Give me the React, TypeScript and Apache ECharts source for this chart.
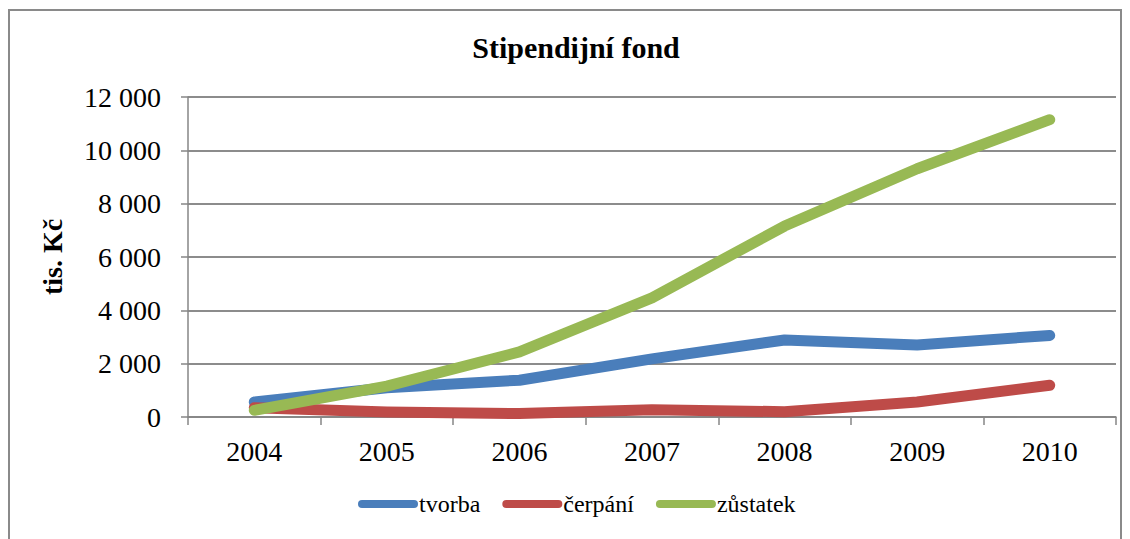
import React, { useEffect, useRef } from "react";
import * as echarts from "echarts";

const title = "Stipendijní fond";
const categories = ["2004", "2005", "2006", "2007", "2008", "2009", "2010"];
const seriesNames = ["tvorba", "čerpání", "zůstatek"];
const tvorba = [560, 1100, 1380, 2180, 2890, 2700, 3060];
const cerpani = [350, 190, 130, 270, 200, 560, 1190];
const zustatek = [250, 1160, 2440, 4470, 7160, 9310, 11150];
const colors = ["#4A7EBB", "#BE4B48", "#98B954"];
const yName = "tis. Kč";

const FONT = "Liberation Serif";

export default function App() {
  const ref = useRef<HTMLDivElement>(null);
  useEffect(() => {
    if (!ref.current) return;
    const chart = echarts.init(ref.current, undefined, { renderer: "svg" });
    const dataSets = [tvorba, cerpani, zustatek];
    chart.setOption({
      animation: false,
      backgroundColor: "#ffffff",
      textStyle: { fontFamily: FONT },
      title: {
        text: title,
        left: 571,
        textAlign: "center",
        top: 27,
        textStyle: { fontFamily: FONT, fontSize: 30, fontWeight: "bold", color: "#000" },
      },
      legend: {
        bottom: 18,
        left: 353,
        itemWidth: 60,
        itemHeight: 8,
        itemGap: 22,
        icon: "path://M4,0 L56,0 A4,4 0 0 1 56,8 L4,8 A4,4 0 0 1 4,0 Z",
        textStyle: { fontFamily: FONT, fontSize: 24, color: "#000", padding: [0, 0, 0, -4] },
        data: seriesNames,
      },
      grid: { left: 188, right: 14, top: 97, bottom: 122, containLabel: false },
      xAxis: {
        type: "category",
        data: categories,
        boundaryGap: true,
        axisLine: { lineStyle: { color: "#868686", width: 1.5 } },
        axisTick: { show: true, alignWithLabel: false, length: 8, lineStyle: { color: "#868686", width: 1.5 } },
        axisLabel: { fontFamily: FONT, fontSize: 28, color: "#000", margin: 20 },
      },
      yAxis: {
        type: "value",
        min: 0,
        max: 12000,
        interval: 2000,
        name: yName,
        nameLocation: "middle",
        nameRotate: 90,
        nameGap: 122,
        nameTextStyle: { fontFamily: FONT, fontSize: 28, fontWeight: "bold", color: "#000" },
        axisLine: { show: true, lineStyle: { color: "#868686", width: 1.5 } },
        axisTick: { show: true, length: 7, lineStyle: { color: "#868686", width: 1.5 } },
        axisLabel: {
          fontFamily: FONT,
          fontSize: 28,
          color: "#000",
          margin: 27,
          formatter: (v: number) => String(v).replace(/\B(?=(\d{3})+(?!\d))/g, " "),
        },
        splitLine: { show: true, lineStyle: { color: "#8c8c8c", width: 2 } },
      },
      series: seriesNames.map((n, i) => ({
        name: n,
        type: "line",
        data: dataSets[i],
        showSymbol: false,
        symbol: "none",
        color: colors[i],
        lineStyle: { width: 11, color: colors[i], cap: "round", join: "round" },
      })),
    });
    return () => chart.dispose();
  }, []);
  return (
    <div
      style={{
        position: "fixed",
        left: 0,
        top: 0,
        width: 1130,
        height: 539,
        background: "#fff",
      }}
    >
      <div
        ref={ref}
        style={{
          position: "absolute",
          left: 0,
          top: 0,
          width: 1130,
          height: 539,
        }}
      />
      <div
        style={{
          position: "absolute",
          left: 8,
          top: 9,
          width: 1114,
          height: 540,
          border: "2px solid #8a8a8a",
          boxSizing: "border-box",
          pointerEvents: "none",
        }}
      />
    </div>
  );
}
